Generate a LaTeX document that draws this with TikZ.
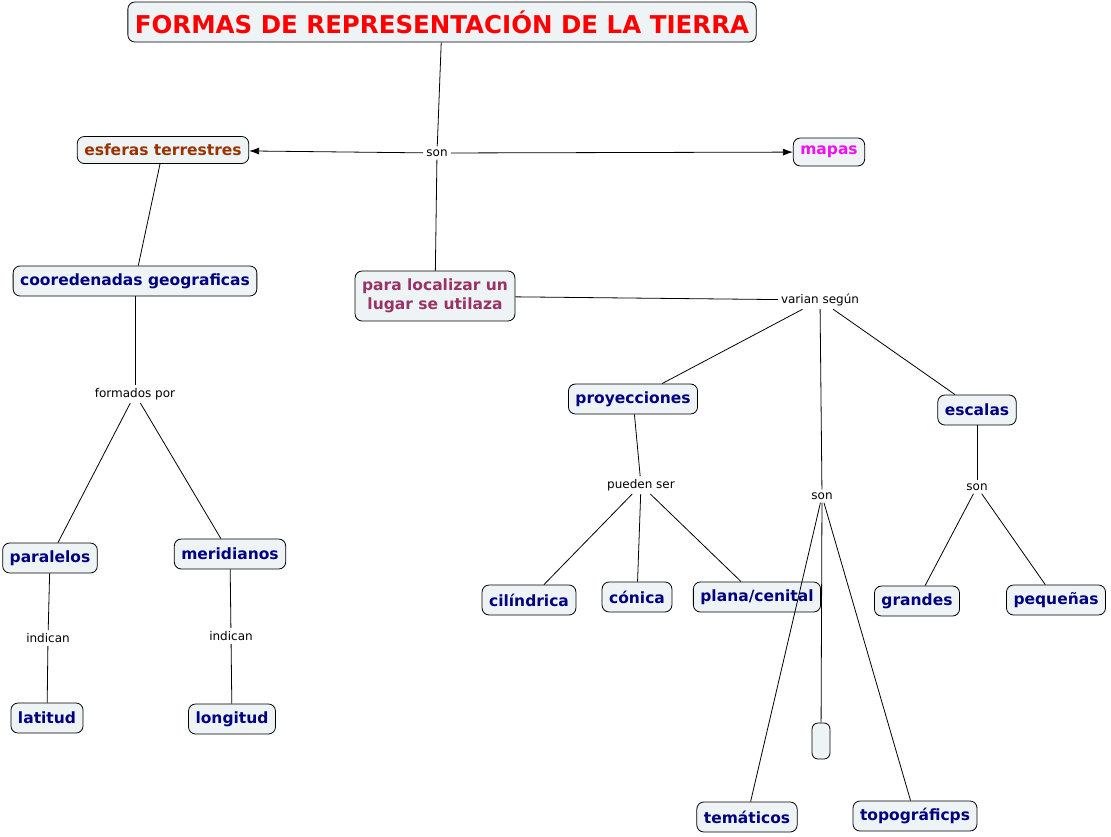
\documentclass[tikz,border=0pt]{standalone}
\usepackage{fontspec}
\setmainfont{DejaVu Sans}
\usetikzlibrary{arrows.meta}
\definecolor{boxfill}{HTML}{EEF3F6}
\definecolor{conceptblue}{HTML}{000080}
\definecolor{titlered}{HTML}{FF0000}
\definecolor{brownish}{HTML}{993300}
\definecolor{pinkish}{HTML}{F010F0}
\definecolor{plum}{HTML}{993366}

\begin{document}
\begin{tikzpicture}[
    x=1pt, y=-1pt,
    >={Latex[length=10pt, width=7pt]},
    concept/.style={draw=black, line width=0.8pt, rounded corners=7pt, fill=boxfill, align=center, text=conceptblue,
        font=\bfseries\fontsize{15.5}{18}\selectfont, minimum height=30pt, inner xsep=7pt},
    heading/.style={concept, text=titlered, font=\bfseries\fontsize{24.5}{28}\selectfont, minimum height=40pt},
    link/.style={font=\fontsize{12}{14}\selectfont, inner sep=3pt},
    conn/.style={line width=0.8pt}
]
\useasboundingbox (0,0) rectangle (1111,836);

% top level
\node[heading, minimum width=626pt] (title) at (442,22) {FORMAS DE REPRESENTACIÓN DE LA TIERRA};
\node[link] (son1) at (437,153) {son};
\node[concept, text=brownish, minimum height=27pt] (esferas) at (163,150) {esferas terrestres};
\node[concept, text=pinkish, minimum height=28pt] (mapas) at (829,152) {mapas};
\node[concept, text=plum, minimum height=50pt, font=\bfseries\fontsize{15.5}{19}\selectfont] (localizar) at (435,296) {para localizar un\\lugar se utilaza};

% left branch
\node[concept] (coordenadas) at (135,281) {cooredenadas geograficas};
\node[link] (formados) at (135,394) {formados por};
\node[concept] (paralelos) at (50,558) {paralelos};
\node[concept] (meridianos) at (230,554) {meridianos};
\node[link] (indicanA) at (48,638) {indican};
\node[link] (indicanB) at (231,636) {indican};
\node[concept] (latitud) at (47,718) {latitud};
\node[concept] (longitud) at (232,719) {longitud};

% right branch
\node[link] (varian) at (820,300) {varian según};
\node[concept] (proyecciones) at (633,399) {proyecciones};
\node[concept] (escalas) at (977,410) {escalas};
\node[link] (pueden) at (641,485) {pueden ser};
\node[link] (son2) at (822,496) {son};
\node[link] (son3) at (977,487) {son};
\node[concept] (cilindrica) at (529,600) {cilíndrica};
\node[concept] (conica) at (637,597) {cónica};
\node[concept] (plana) at (757,597) {plana/cenital};
\node[concept] (grandes) at (917,601) {grandes};
\node[concept] (pequenas) at (1056,600) {pequeñas};
\node[concept, minimum width=18pt, minimum height=36pt, inner xsep=0pt, rounded corners=6pt] (vacio) at (821,741) {};
\node[concept] (tematicos) at (747,817) {temáticos};
\node[concept] (topograficos) at (915,816) {topográficps};

\draw[conn] (title) -- (son1);
\draw[conn, ->] (son1) -- (esferas);
\draw[conn, ->] (son1) -- (mapas);
\draw[conn] (son1) -- (localizar);

\draw[conn] (esferas) -- (coordenadas);
\draw[conn] (coordenadas) -- (formados);
\draw[conn] (formados) -- (paralelos);
\draw[conn] (formados) -- (meridianos);
\draw[conn] (paralelos) -- (indicanA);
\draw[conn] (indicanA) -- (latitud);
\draw[conn] (meridianos) -- (indicanB);
\draw[conn] (indicanB) -- (longitud);

\draw[conn] (localizar) -- (varian);
\draw[conn] (varian) -- (proyecciones);
\draw[conn] (varian) -- (son2);
\draw[conn] (varian) -- (escalas);
\draw[conn] (proyecciones) -- (pueden);
\draw[conn] (pueden) -- (cilindrica);
\draw[conn] (pueden) -- (conica);
\draw[conn] (pueden) -- (plana);
\draw[conn] (escalas) -- (son3);
\draw[conn] (son3) -- (grandes);
\draw[conn] (son3) -- (pequenas);
\draw[conn] (son2) -- (tematicos);
\draw[conn] (son2) -- (vacio);
\draw[conn] (son2) -- (topograficos);
\end{tikzpicture}
\end{document}
